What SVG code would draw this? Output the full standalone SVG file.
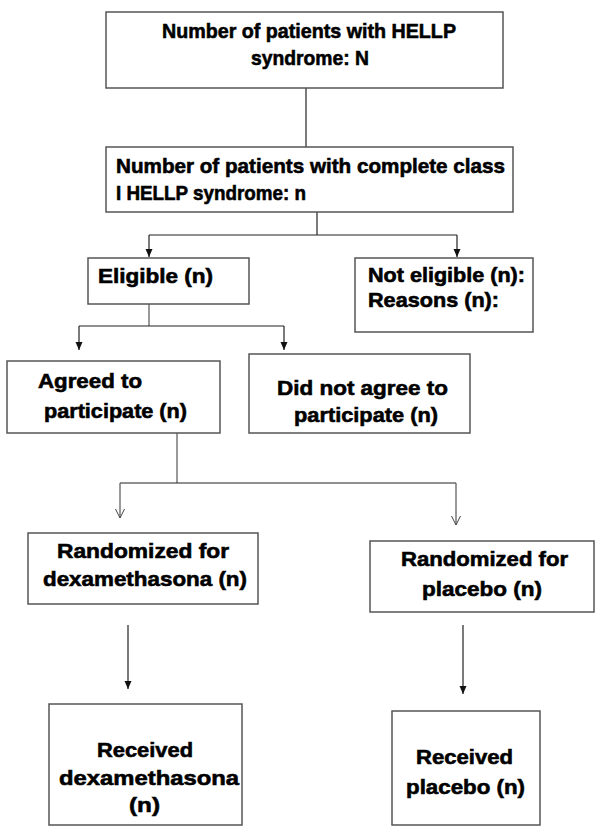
<svg xmlns="http://www.w3.org/2000/svg" width="600" height="830" viewBox="0 0 600 830">
<defs>
<style>
.box{fill:#fff;stroke:#555;stroke-width:1.5}
.t{font-family:"Liberation Sans",Arial,sans-serif;font-weight:bold;fill:#000;stroke:#000;stroke-width:0.6}
.big{font-size:21px}
.mid{font-size:20.5px}
.sm{font-size:21px}
.c{text-anchor:middle}
.ln{fill:none;stroke:#222;stroke-width:1.2}
.lg{fill:none;stroke:#555;stroke-width:1.2}
</style>
<marker id="ah" markerUnits="userSpaceOnUse" markerWidth="9" markerHeight="8" refX="8" refY="3.5" orient="auto">
<path d="M0,0 L8,3.5 L0,7 z" fill="#111"/>
</marker>
<marker id="av" markerUnits="userSpaceOnUse" markerWidth="10" markerHeight="10" refX="9" refY="4.5" orient="auto">
<path d="M0,0 L9,4.5 L0,9" fill="none" stroke="#444" stroke-width="1"/>
</marker>
</defs>
<rect width="600" height="830" fill="#fff"/>

<g id="connectors">
<line class="ln" x1="306" y1="88" x2="306" y2="147"/>
<polyline class="ln" points="317,212 317,235"/>
<polyline class="ln" points="149,235 457,235"/>
<line class="ln" x1="149" y1="235" x2="149" y2="257" marker-end="url(#ah)"/>
<line class="ln" x1="457" y1="235" x2="457" y2="257" marker-end="url(#ah)"/>
<line class="lg" x1="149" y1="304" x2="149" y2="326"/>
<polyline class="ln" points="79,326 284,326"/>
<line class="ln" x1="79" y1="326" x2="79" y2="350" marker-end="url(#ah)"/>
<line class="ln" x1="284" y1="326" x2="284" y2="350" marker-end="url(#ah)"/>
<line class="lg" x1="177" y1="433" x2="177" y2="483"/>
<polyline class="ln" points="120,483 456,483"/>
<line class="lg" x1="120" y1="483" x2="120" y2="518" marker-end="url(#av)"/>
<line class="lg" x1="456" y1="483" x2="456" y2="525" marker-end="url(#av)"/>
<line class="ln" x1="128" y1="625" x2="128" y2="689" marker-end="url(#ah)"/>
<line class="ln" x1="463" y1="625" x2="463" y2="694" marker-end="url(#ah)"/>
</g>

<g id="n1">
<rect class="box" x="106" y="12" width="397" height="76"/>
<text class="t big" x="162" y="38" textLength="294" lengthAdjust="spacingAndGlyphs">Number of patients with HELLP</text>
<text class="t big c" x="310" y="65" textLength="118" lengthAdjust="spacingAndGlyphs">syndrome: N</text>
</g>

<g id="n2">
<rect class="box" x="106" y="147" width="407" height="65"/>
<text class="t big" x="116" y="173" textLength="389" lengthAdjust="spacingAndGlyphs">Number of patients with complete class</text>
<text class="t big" x="116" y="200" textLength="190" lengthAdjust="spacingAndGlyphs">I HELLP syndrome: n</text>
</g>

<g id="n3">
<rect class="box" x="88" y="258" width="161" height="46"/>
<text class="t mid" x="98" y="283" textLength="115" lengthAdjust="spacingAndGlyphs">Eligible (n)</text>
</g>

<g id="n4">
<rect class="box" x="355" y="258" width="178" height="74"/>
<text class="t mid" x="368" y="282" textLength="157" lengthAdjust="spacingAndGlyphs">Not eligible (n):</text>
<text class="t mid" x="368" y="307" textLength="131" lengthAdjust="spacingAndGlyphs">Reasons (n):</text>
</g>

<g id="n5">
<rect class="box" x="7" y="361" width="213" height="72"/>
<text class="t sm" x="38" y="388" textLength="104" lengthAdjust="spacingAndGlyphs">Agreed to</text>
<text class="t sm" x="44" y="418" textLength="143" lengthAdjust="spacingAndGlyphs">participate (n)</text>
</g>

<g id="n6">
<rect class="box" x="249" y="354" width="221" height="79"/>
<text class="t sm" x="277" y="395" textLength="171" lengthAdjust="spacingAndGlyphs">Did not agree to</text>
<text class="t sm" x="294" y="422" textLength="144" lengthAdjust="spacingAndGlyphs">participate (n)</text>
</g>

<g id="n7">
<rect class="box" x="28" y="533" width="230" height="71"/>
<text class="t sm" x="57" y="558" textLength="172" lengthAdjust="spacingAndGlyphs">Randomized for</text>
<text class="t sm" x="43" y="586" textLength="204" lengthAdjust="spacingAndGlyphs">dexamethasona (n)</text>
</g>

<g id="n8">
<rect class="box" x="370" y="541" width="224" height="71"/>
<text class="t sm" x="401" y="566" textLength="167" lengthAdjust="spacingAndGlyphs">Randomized for</text>
<text class="t sm" x="422" y="596" textLength="120" lengthAdjust="spacingAndGlyphs">placebo (n)</text>
</g>

<g id="n9">
<rect class="box" x="49" y="704" width="193" height="121"/>
<text class="t sm" x="97" y="757" textLength="96" lengthAdjust="spacingAndGlyphs">Received</text>
<text class="t sm" x="59" y="785" textLength="180" lengthAdjust="spacingAndGlyphs">dexamethasona</text>
<text class="t sm" x="129" y="812" textLength="31" lengthAdjust="spacingAndGlyphs">(n)</text>
</g>

<g id="n10">
<rect class="box" x="392" y="711" width="148" height="114"/>
<text class="t sm" x="416" y="764" textLength="97" lengthAdjust="spacingAndGlyphs">Received</text>
<text class="t sm" x="406" y="794" textLength="119" lengthAdjust="spacingAndGlyphs">placebo (n)</text>
</g>
</svg>
